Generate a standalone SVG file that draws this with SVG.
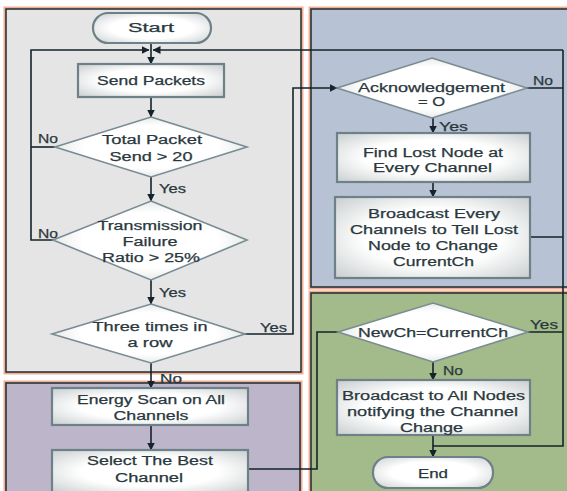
<svg xmlns="http://www.w3.org/2000/svg" width="567" height="491" viewBox="0 0 567 491">
<defs>
<radialGradient id="bg" cx="50%" cy="50%" r="70%">
<stop offset="0.5" stop-color="#ffffff"/>
<stop offset="1" stop-color="#c9cecf"/>
</radialGradient>
<marker id="ah" markerWidth="8" markerHeight="8" viewBox="0 0 8 8" refX="7.5" refY="4" orient="auto" markerUnits="userSpaceOnUse">
<path d="M0,0 L8,4 L0,8 z" fill="#15232a"/>
</marker>
</defs>
<style>
.panel{stroke:#1f2b30;stroke-width:1.5}
.halo{fill:none;stroke:#f2ae92;stroke-width:3}
.box{fill:url(#bg);stroke:#6f8188;stroke-width:2.2}
.dia{fill:url(#bg);stroke:#7a8c92;stroke-width:1.6}
.t{font-family:"Liberation Sans",Arial,sans-serif;font-size:12.5px;fill:#2a383e;stroke:#2a383e;stroke-width:0.25;text-anchor:middle}
.l{font-family:"Liberation Sans",Arial,sans-serif;font-size:12.5px;fill:#2a383e;stroke:#2a383e;stroke-width:0.25}
.c{fill:none;stroke:#15232a;stroke-width:1.6}
.a{marker-end:url(#ah)}
</style>
<rect width="567" height="491" fill="#ffffff"/>
<g id="panels">
<rect class="halo" x="5" y="8" width="297" height="365"/>
<rect class="panel" x="6" y="9" width="295" height="363" fill="#e5e5e5"/>
<rect class="halo" x="5" y="382" width="296" height="115"/>
<rect class="panel" x="6" y="383" width="294" height="115" fill="#bdb5c9"/>
<rect class="halo" x="310" y="8" width="262" height="280"/>
<rect class="panel" x="311" y="9" width="262" height="278" fill="#b7c3d4"/>
<rect class="halo" x="310" y="292" width="262" height="205"/>
<rect class="panel" x="311" y="293" width="262" height="205" fill="#a3ba8a"/>
</g>
<g id="connectors">
<path class="c a" d="M151,43 V64"/>
<path class="c a" d="M151,97 V117"/>
<path class="c a" d="M151,177 V201"/>
<path class="c a" d="M151,280 V304"/>
<path class="c a" d="M151,363 V388"/>
<path class="c a" d="M151,425 V450"/>
<path class="c" d="M55,147 H31"/>
<path class="c a" d="M53,240 H31 V50 H149"/>
<path class="c a" d="M563,50 H153"/>
<path class="c a" d="M245,334 H293 V88 H337"/>
<path class="c a" d="M433,118 V133"/>
<path class="c a" d="M433,182 V197"/>
<path class="c" d="M527,88 H563"/>
<path class="c" d="M530,237 H563"/>
<path class="c" d="M528,332 H563"/>
<path class="c a" d="M563,50 V446 H433 V457"/>
<path class="c" d="M433,435 V446"/>
<path class="c" d="M248,469 H317 V332 H338"/>
<path class="c a" d="M433,362 V380"/>
</g>
<g id="start">
<rect class="box" x="93" y="13" width="118" height="30" rx="15"/>
<text class="t" x="151" y="32" textLength="46" lengthAdjust="spacingAndGlyphs">Start</text>
</g>
<g id="send">
<rect class="box" x="78" y="64" width="146" height="33"/>
<text class="t" x="151" y="85" textLength="108" lengthAdjust="spacingAndGlyphs">Send Packets</text>
</g>
<g id="total">
<polygon class="dia" points="151,117 247,147 151,177 55,147"/>
<text class="t" x="152" y="143.5" textLength="100" lengthAdjust="spacingAndGlyphs">Total Packet</text>
<text class="t" x="151" y="160.5" textLength="83" lengthAdjust="spacingAndGlyphs">Send &gt; 20</text>
</g>
<g id="transmission">
<polygon class="dia" points="151,201 247,240 151,280 53,240"/>
<text class="t" x="150" y="229.5" textLength="105" lengthAdjust="spacingAndGlyphs">Transmission</text>
<text class="t" x="150" y="245.5" textLength="55" lengthAdjust="spacingAndGlyphs">Failure</text>
<text class="t" x="151" y="261.5" textLength="98" lengthAdjust="spacingAndGlyphs">Ratio &gt; 25%</text>
</g>
<g id="three">
<polygon class="dia" points="151,304 245,334 151,363 52,334"/>
<text class="t" x="150" y="330.5" textLength="115" lengthAdjust="spacingAndGlyphs">Three times in</text>
<text class="t" x="150" y="346.5" textLength="45" lengthAdjust="spacingAndGlyphs">a row</text>
</g>
<g id="energy">
<rect class="box" x="52" y="388" width="196" height="37"/>
<text class="t" x="151" y="403.5" textLength="148" lengthAdjust="spacingAndGlyphs">Energy Scan on All</text>
<text class="t" x="151" y="419.5" textLength="75" lengthAdjust="spacingAndGlyphs">Channels</text>
</g>
<g id="select">
<rect class="box" x="52" y="450" width="196" height="43"/>
<text class="t" x="150" y="464.5" textLength="126" lengthAdjust="spacingAndGlyphs">Select The Best</text>
<text class="t" x="149" y="481.5" textLength="68" lengthAdjust="spacingAndGlyphs">Channel</text>
</g>
<g id="ack">
<polygon class="dia" points="432,58 527,88 432,118 337,88"/>
<text class="t" x="431.5" y="91.5" textLength="147" lengthAdjust="spacingAndGlyphs">Acknowledgement</text>
<text class="t" x="431.5" y="105.5" textLength="27" lengthAdjust="spacingAndGlyphs">= O</text>
</g>
<g id="find">
<rect class="box" x="337" y="133" width="193" height="49"/>
<text class="t" x="433" y="156.5" textLength="140" lengthAdjust="spacingAndGlyphs">Find Lost Node at</text>
<text class="t" x="432.5" y="171.5" textLength="119" lengthAdjust="spacingAndGlyphs">Every Channel</text>
</g>
<g id="broadcast">
<rect class="box" x="335" y="197" width="195" height="81"/>
<text class="t" x="434" y="217.5" textLength="132" lengthAdjust="spacingAndGlyphs">Broadcast Every</text>
<text class="t" x="434" y="233.5" textLength="168" lengthAdjust="spacingAndGlyphs">Channels to Tell Lost</text>
<text class="t" x="433" y="249.5" textLength="130" lengthAdjust="spacingAndGlyphs">Node to Change</text>
<text class="t" x="433.5" y="265.5" textLength="81" lengthAdjust="spacingAndGlyphs">CurrentCh</text>
</g>
<g id="newch">
<polygon class="dia" points="433,303 528,332 433,362 338,332"/>
<text class="t" x="433" y="336.5" textLength="150" lengthAdjust="spacingAndGlyphs">NewCh=CurrentCh</text>
</g>
<g id="broadcastall">
<rect class="box" x="337" y="380" width="193" height="55"/>
<text class="t" x="433.5" y="399.5" textLength="183" lengthAdjust="spacingAndGlyphs">Broadcast to All Nodes</text>
<text class="t" x="432.5" y="415.5" textLength="171" lengthAdjust="spacingAndGlyphs">notifying the Channel</text>
<text class="t" x="431.5" y="431.5" textLength="63" lengthAdjust="spacingAndGlyphs">Change</text>
</g>
<g id="end">
<rect class="box" x="373" y="457" width="120" height="31" rx="15"/>
<text class="t" x="433" y="477.5" textLength="30" lengthAdjust="spacingAndGlyphs">End</text>
</g>
<g id="labels">
<text class="l" x="38" y="142.5" textLength="20" lengthAdjust="spacingAndGlyphs">No</text>
<text class="l" x="38" y="237.5" textLength="20" lengthAdjust="spacingAndGlyphs">No</text>
<text class="l" x="159" y="192.5" textLength="27" lengthAdjust="spacingAndGlyphs">Yes</text>
<text class="l" x="159" y="296.5" textLength="27" lengthAdjust="spacingAndGlyphs">Yes</text>
<text class="l" x="260" y="331.5" textLength="27" lengthAdjust="spacingAndGlyphs">Yes</text>
<text class="l" x="160" y="382.5" textLength="22" lengthAdjust="spacingAndGlyphs">No</text>
<text class="l" x="533" y="84.5" textLength="20" lengthAdjust="spacingAndGlyphs">No</text>
<text class="l" x="439" y="130.5" textLength="29" lengthAdjust="spacingAndGlyphs">Yes</text>
<text class="l" x="530" y="328.5" textLength="28" lengthAdjust="spacingAndGlyphs">Yes</text>
<text class="l" x="443" y="374.5" textLength="20" lengthAdjust="spacingAndGlyphs">No</text>
</g>
</svg>
